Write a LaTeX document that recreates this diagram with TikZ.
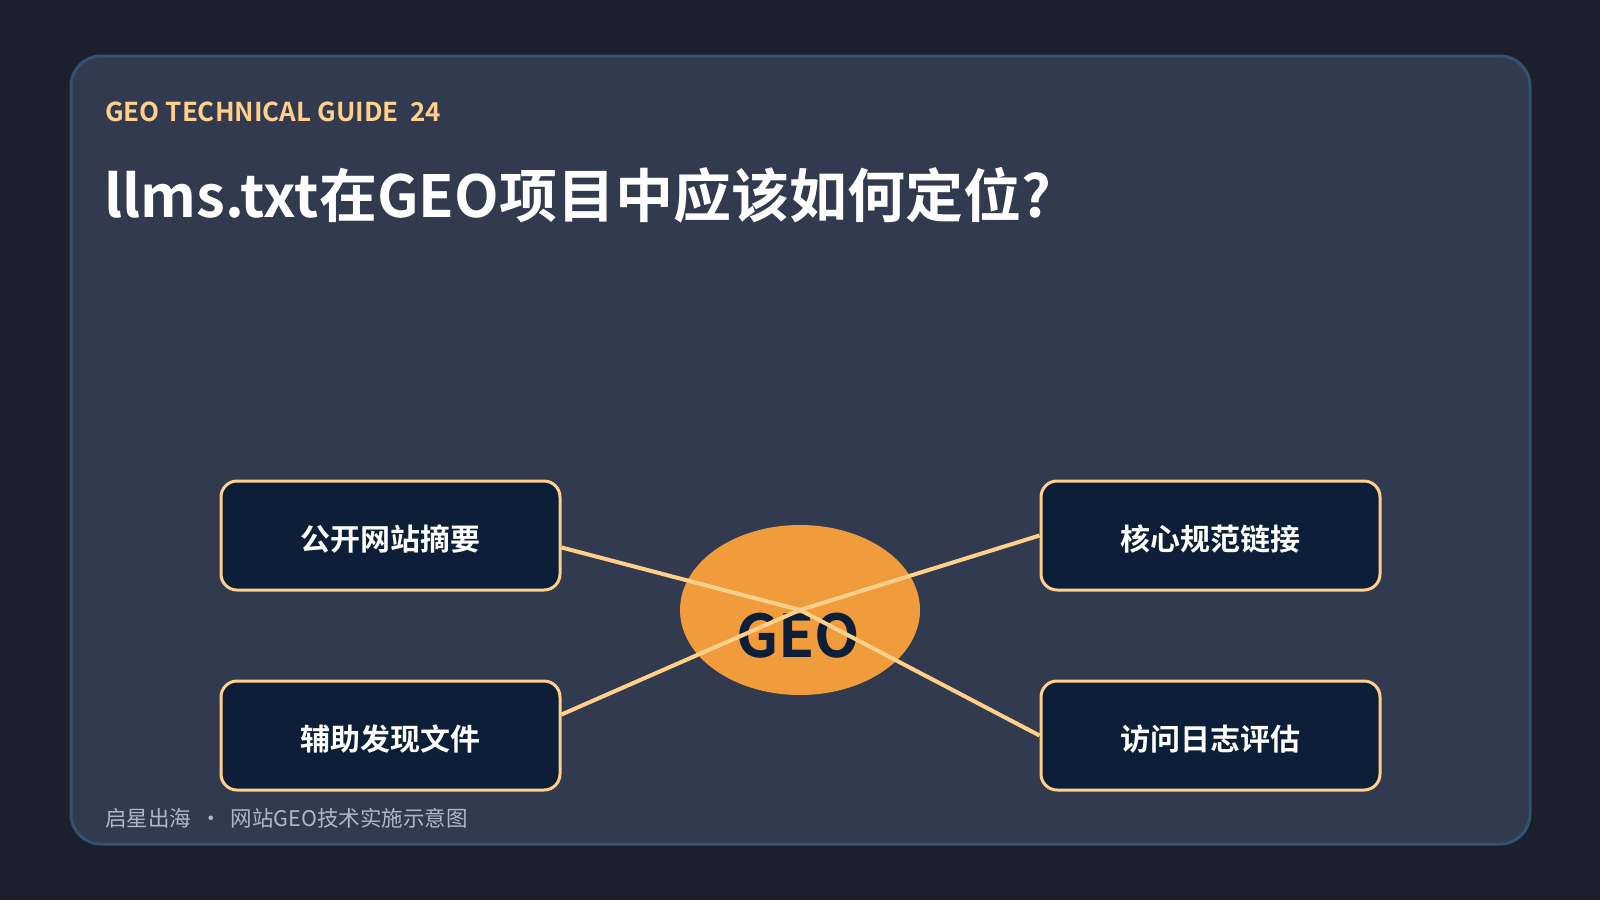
\documentclass[tikz,border=0pt]{standalone}
\usepackage{fontspec}
\setmainfont{Noto Sans CJK SC}[BoldFont={Noto Sans CJK SC Bold}]
\usetikzlibrary{shapes.geometric}
\definecolor{pagebg}{HTML}{1B1F2E}
\definecolor{cardbg}{HTML}{323A4F}
\definecolor{cardline}{HTML}{34526E}
\definecolor{boxbg}{HTML}{0D1F38}
\definecolor{gold}{HTML}{FFD08A}
\definecolor{geoorange}{HTML}{F09C3C}
\definecolor{footgrey}{HTML}{A9B9CC}

\begin{document}
\begin{tikzpicture}[x=1pt,y=-1pt,
  topic/.style={draw=gold,line width=3pt,fill=boxbg,rounded corners=16pt,
    minimum width=339pt,minimum height=109pt,inner sep=0pt,text=white,
    text height=32pt,text depth=3pt,
    font=\bfseries\fontsize{30}{36}\selectfont},
  link/.style={draw=gold,line width=4pt}]
% page and card
\fill[pagebg] (0,0) rectangle (1600,900);
\useasboundingbox (0,0) rectangle (1600,900);
\draw[cardline,fill=cardbg,line width=3pt,rounded corners=30pt] (71,56) rectangle (1530,844);
% texts
\node[anchor=base west,inner sep=0pt,text=gold,font=\bfseries\fontsize{26}{30}\selectfont] (kicker) at (105,121) {GEO TECHNICAL GUIDE\ \ 24};
\node[anchor=base west,inner sep=0pt,text=white,font=\bfseries\fontsize{58}{64}\selectfont] (title) at (104,217) {llms.txt在GEO项目中应该如何定位?};
\node[anchor=base west,inner sep=0pt,text=footgrey,font=\fontsize{21.5}{24}\selectfont] (footer) at (105,826) {启星出海\hspace{9pt}•\hspace{9pt}网站GEO技术实施示意图};
% diagram
\node[topic] (tl) at (390.5,535.5) {公开网站摘要};
\node[topic] (bl) at (390.5,735.5) {辅助发现文件};
\node[topic] (tr) at (1210.5,535.5) {核心规范链接};
\node[topic] (br) at (1210.5,735.5) {访问日志评估};
\node[ellipse,fill=geoorange,minimum width=240pt,minimum height=170pt,inner sep=0pt] (geo) at (800,610) {};
\node[anchor=base,inner sep=0pt,text=boxbg,font=\bfseries\fontsize{59}{66}\selectfont] (geotext) at (798,657) {GEO};
\draw[link] (tl.-4.2) -- (geo.center);
\draw[link] (bl.7.9) -- (geo.center);
\draw[link] (tr.west) -- (geo.center);
\draw[link] (br.west) -- (geo.center);
\end{tikzpicture}
\end{document}
